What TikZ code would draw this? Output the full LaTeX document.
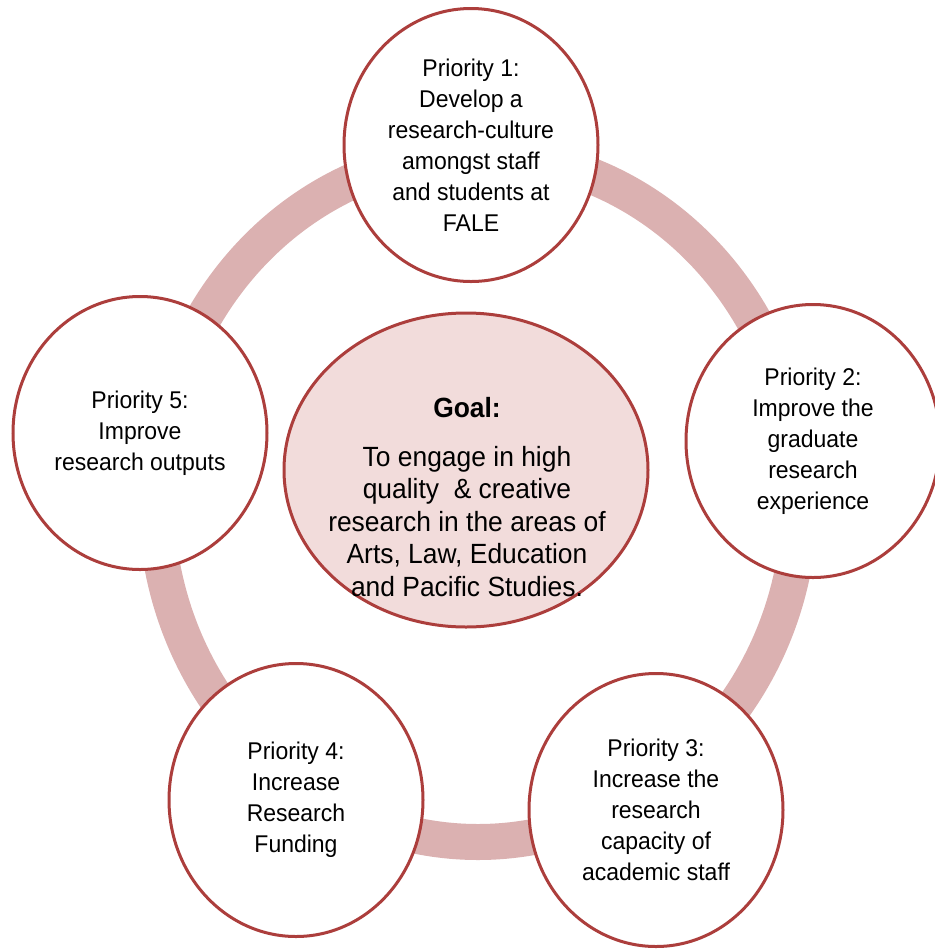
\documentclass[tikz,border=0pt]{standalone}
\usepackage{fontspec}
\setmainfont[FakeStretch=0.95]{Liberation Sans}
\usepackage{tikz}
\usetikzlibrary{positioning, shapes.geometric}

\definecolor{ringred}{RGB}{219,177,177}
\definecolor{edgered}{RGB}{172,62,60}
\definecolor{goalpink}{RGB}{242,220,219}

\tikzset{
  prio/.style={ellipse, draw=edgered, line width=1.5pt, fill=white,
    minimum width=127pt, minimum height=136.5pt, inner sep=0pt,
    align=center, font=\fontsize{12.1}{15.5}\selectfont},
  goalshape/.style={ellipse, draw=edgered, line width=1.5pt, fill=goalpink,
    minimum width=182pt, minimum height=157pt, inner sep=0pt}
}

\begin{document}
\begin{tikzpicture}[x=0.5pt, y=-0.5pt]
\useasboundingbox (0,0) rectangle (935,949);
% ring behind everything
\coordinate (mid) at (478,498);
\draw[ringred, line width=18pt] (mid) ellipse [x radius=161pt, y radius=172pt];
% goal in the middle
\node[goalshape] (goal) at (466,470) {};
\node[align=center, font=\fontsize{13.9}{16.3}\selectfont] (goaltext) at (467,497)
  {\textbf{Goal:}\\[8pt]To engage in high\\quality\ \ \& creative\\research in the areas of\\Arts, Law, Education\\and Pacific Studies.};
% five priorities
\node[prio] (p1) at (471,145) {Priority 1:\\Develop a\\research-culture\\amongst staff\\and students at\\FALE};
\node[prio] (p2) at (813,441) {Priority 2:\\Improve the\\graduate\\research\\experience};
\node[prio] (p3) at (656,810) {Priority 3:\\Increase the\\research\\capacity of\\academic staff};
\node[prio] (p4) at (296,800) {Priority 4:\\Increase\\Research\\Funding};
\node[prio] (p5) at (140,433) {Priority 5:\\Improve\\research outputs};
\end{tikzpicture}
\end{document}
